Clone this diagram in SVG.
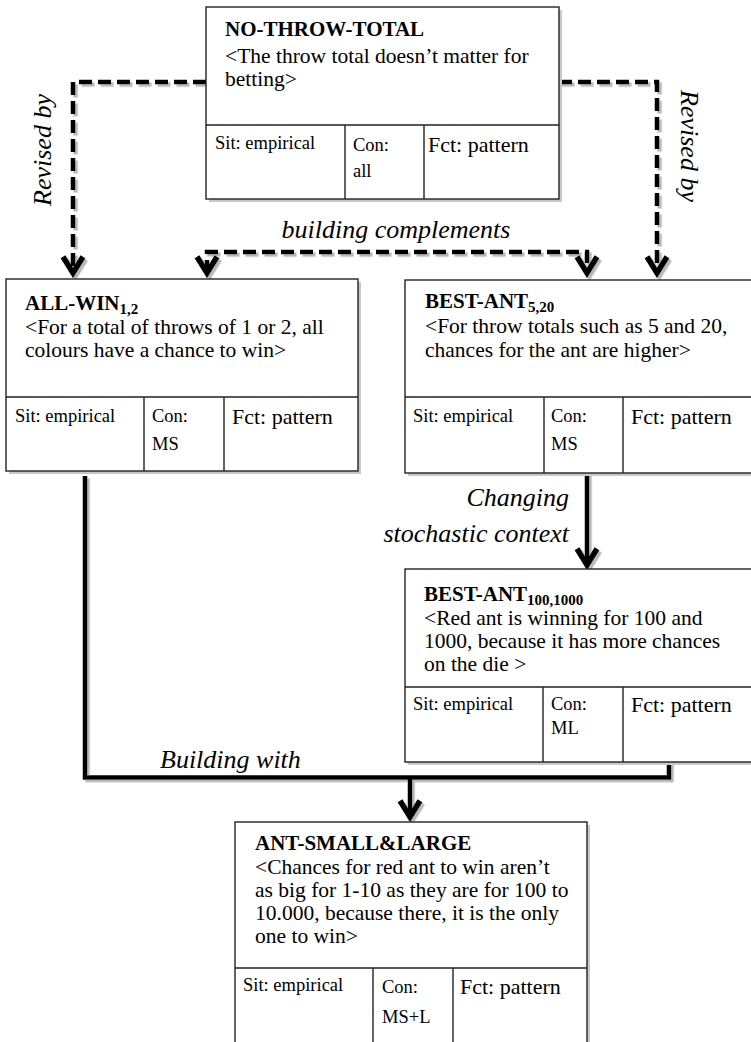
<svg xmlns="http://www.w3.org/2000/svg" width="751" height="1042" viewBox="0 0 751 1042" font-family="'Liberation Serif', serif">
  <defs>
    <style>
      .t { font-family: "Liberation Serif", "Times New Roman", serif; fill: #000; }
      .title { font-size: 21px; font-weight: bold; }
      .sub { font-size: 15px; font-weight: bold; }
      .body { font-size: 21.5px; }
      .cell { font-size: 18.5px; }
      .fct { font-size: 22px; }
      .lbl { font-size: 26px; font-style: italic; }
      .box { fill: #fff; stroke: #222; stroke-width: 1.4; }
      .shadow { fill: #c9c9c9; }
      .div { stroke: #222; stroke-width: 1.4; fill: none; }
      .dash { fill: none; stroke: #000; stroke-width: 4.5; stroke-dasharray: 13 6; stroke-linejoin: miter; }
      .solid { fill: none; stroke: #000; stroke-width: 4.5; stroke-linejoin: miter; }
    </style>
    <marker id="head" markerUnits="userSpaceOnUse" markerWidth="30" markerHeight="30" viewBox="-16 -12 20 24" refX="0" refY="0" orient="auto-start-reverse" overflow="visible">
      <path d="M-13,-8 L0,0 L-13,8" fill="none" stroke="#000" stroke-width="4.5" stroke-dasharray="none" stroke-linejoin="miter"/>
    </marker>
    <filter id="lineShadow" x="-5%" y="-5%" width="110%" height="110%">
      <feDropShadow dx="2.5" dy="2.5" stdDeviation="0.4" flood-color="#9a9a9a" flood-opacity="0.7"/>
    </filter>
  </defs>

  <rect width="751" height="1042" fill="#fff"/>

  <!-- connectors -->
  <g id="connectors" filter="url(#lineShadow)">
    <path class="dash" d="M206,82 H73 V273" marker-end="url(#head)"/>
    <path class="dash" d="M559,82 H657 V273" marker-end="url(#head)"/>
    <path class="dash" d="M207,273 V252 H587 V273" marker-start="url(#head)" marker-end="url(#head)"/>
    <path class="solid" d="M587,473 V565" marker-end="url(#head)"/>
    <path class="solid" d="M85,476 V777.5 H669 V762"/>
    <path class="solid" d="M410,777.5 V817" marker-end="url(#head)"/>
  </g>

  <!-- connector labels -->
  <g id="labels">
    <text class="t lbl" transform="translate(51,150) rotate(-90)" text-anchor="middle">Revised by</text>
    <text class="t lbl" transform="translate(681,146) rotate(90)" text-anchor="middle">Revised by</text>
    <text class="t lbl" x="396" y="238" text-anchor="middle">building complements</text>
    <text class="t lbl" x="569" y="506" text-anchor="end">Changing</text>
    <text class="t lbl" x="569" y="542" text-anchor="end">stochastic context</text>
    <text class="t lbl" x="160" y="768">Building with</text>
  </g>

  <!-- NO-THROW-TOTAL -->
  <g id="node-no-throw-total">
    <rect class="shadow" x="209" y="10" width="353" height="192"/>
    <rect class="box" x="206" y="7" width="353" height="192"/>
    <path class="div" d="M206,125 H559 M345,125 V199 M424,125 V199"/>
    <text class="t title" x="225" y="36">NO-THROW-TOTAL</text>
    <text class="t body" x="225" y="63">&lt;The throw total doesn’t matter for</text>
    <text class="t body" x="225" y="86">betting&gt;</text>
    <text class="t cell" x="215" y="149">Sit: empirical</text>
    <text class="t cell" x="353" y="151">Con:</text>
    <text class="t cell" x="353" y="177">all</text>
    <text class="t fct" x="428" y="152">Fct: pattern</text>
  </g>

  <!-- ALL-WIN 1,2 -->
  <g id="node-all-win">
    <rect class="shadow" x="9" y="282" width="352" height="192"/>
    <rect class="box" x="6" y="279" width="352" height="192"/>
    <path class="div" d="M6,397 H358 M144,397 V471 M224,397 V471"/>
    <text class="t title" x="25" y="310">ALL-WIN<tspan class="sub" dy="4">1,2</tspan></text>
    <text class="t body" x="25" y="334">&lt;For a total of throws of 1 or 2, all</text>
    <text class="t body" x="25" y="357">colours have a chance to win&gt;</text>
    <text class="t cell" x="15" y="422">Sit: empirical</text>
    <text class="t cell" x="152" y="422">Con:</text>
    <text class="t cell" x="152" y="450">MS</text>
    <text class="t fct" x="232" y="424">Fct: pattern</text>
  </g>

  <!-- BEST-ANT 5,20 -->
  <g id="node-best-ant-5-20">
    <rect class="shadow" x="408" y="283" width="360" height="193"/>
    <rect class="box" x="405" y="280" width="360" height="193"/>
    <path class="div" d="M405,397 H765 M544,397 V473 M623,397 V473"/>
    <text class="t title" x="425" y="308">BEST-ANT<tspan class="sub" dy="4">5,20</tspan></text>
    <text class="t body" x="425" y="333">&lt;For throw totals such as 5 and 20,</text>
    <text class="t body" x="425" y="357">chances for the ant are higher&gt;</text>
    <text class="t cell" x="413" y="422">Sit: empirical</text>
    <text class="t cell" x="551" y="422">Con:</text>
    <text class="t cell" x="551" y="450">MS</text>
    <text class="t fct" x="631" y="424">Fct: pattern</text>
  </g>

  <!-- BEST-ANT 100,1000 -->
  <g id="node-best-ant-100-1000">
    <rect class="shadow" x="408" y="572" width="360" height="193"/>
    <rect class="box" x="405" y="569" width="360" height="193"/>
    <path class="div" d="M405,687 H765 M543,687 V762 M623,687 V762"/>
    <text class="t title" x="424" y="601">BEST-ANT<tspan class="sub" dy="4">100,1000</tspan></text>
    <text class="t body" x="424" y="625">&lt;Red ant is winning for 100 and</text>
    <text class="t body" x="424" y="648">1000, because it has more chances</text>
    <text class="t body" x="424" y="671">on the die &gt;</text>
    <text class="t cell" x="413" y="710">Sit: empirical</text>
    <text class="t cell" x="551" y="710">Con:</text>
    <text class="t cell" x="551" y="734">ML</text>
    <text class="t fct" x="631" y="712">Fct: pattern</text>
  </g>

  <!-- ANT-SMALL&LARGE -->
  <g id="node-ant-small-large">
    <rect class="shadow" x="238" y="825" width="352" height="230"/>
    <rect class="box" x="235" y="822" width="352" height="230"/>
    <path class="div" d="M235,968 H587 M373,968 V1052 M453,968 V1052"/>
    <text class="t title" x="255" y="850">ANT-SMALL&amp;LARGE</text>
    <text class="t body" x="255" y="874">&lt;Chances for red ant to win aren’t</text>
    <text class="t body" x="255" y="897">as big for 1-10 as they are for 100 to</text>
    <text class="t body" x="255" y="920">10.000, because there, it is the only</text>
    <text class="t body" x="255" y="943">one to win&gt;</text>
    <text class="t cell" x="243" y="991">Sit: empirical</text>
    <text class="t cell" x="382" y="993">Con:</text>
    <text class="t cell" x="382" y="1023">MS+L</text>
    <text class="t fct" x="460" y="994">Fct: pattern</text>
  </g>
</svg>
